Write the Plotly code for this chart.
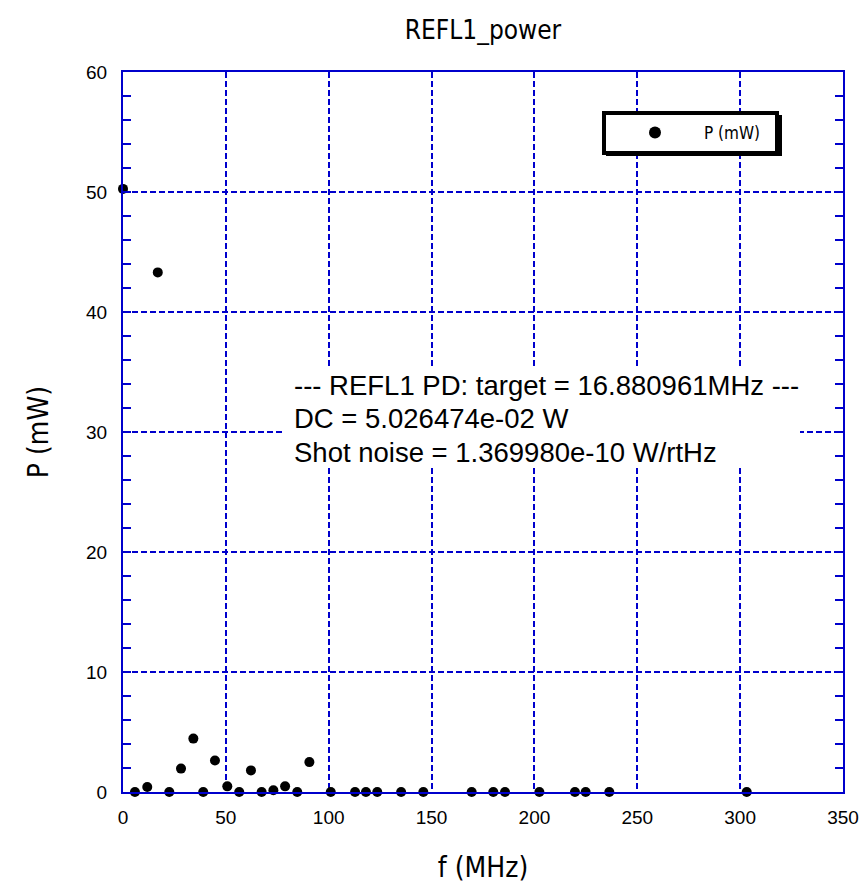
import plotly.graph_objects as go

# ---- data ----
freq_mhz = [0, 5.8, 11.8, 16.9, 22.5, 28.2, 34.2, 39.0, 44.7, 50.7, 56.5, 62.2,
            67.4, 73.1, 78.8, 84.7, 90.6, 101.0, 112.8, 118.1, 123.6, 135.2,
            146.0, 169.5, 180.0, 185.7, 202.4, 219.7, 224.9, 236.4, 303.2]
power_mw = [50.26, 0, 0.42, 43.3, 0, 1.95, 4.45, 0, 2.63, 0.47, 0, 1.8,
            0, 0.14, 0.47, 0, 2.49, 0, 0, 0, 0, 0,
            0, 0, 0, 0, 0, 0, 0, 0, 0]
x_ticks = [0, 50, 100, 150, 200, 250, 300, 350]
y_ticks = [0, 10, 20, 30, 40, 50, 60]
info_lines = ["--- REFL1 PD: target = 16.880961MHz ---",
              "DC = 5.026474e-02 W",
              "Shot noise = 1.369980e-10 W/rtHz"]

BLUE = "#0000CC"
NARROW = "Liberation Sans Narrow, DejaVu Sans Condensed, Roboto, sans-serif"
ARIAL = "Liberation Sans, Arial, sans-serif"

fig = go.Figure()
fig.add_trace(go.Scatter(
    x=freq_mhz, y=power_mw, mode="markers", name="P (mW)&nbsp;&nbsp;",
    marker=dict(color="black", size=10), cliponaxis=False))

# body margin is removed in the page (post_script), so figure fills the window
W, H = 865, 893
L, T = 123, 72
pw, ph = 720, 720
R, B = W - L - pw, H - T - ph

def px_x(p):  # screen pixel -> paper x
    return (p - L) / pw

def px_y(p):  # screen pixel -> paper y
    return (T + ph - p) / ph

# legend drop shadow
fig.add_shape(type="rect", xref="paper", yref="paper",
              x0=px_x(606), x1=px_x(782), y0=px_y(156), y1=px_y(115),
              fillcolor="black", line=dict(width=0), layer="above")

# white box behind the info text
fig.add_shape(type="rect", xref="paper", yref="paper",
              x0=px_x(285), x1=px_x(800), y0=px_y(468), y1=px_y(369),
              fillcolor="white", line=dict(width=0), layer="above")

for txt, yy in zip(info_lines, [385, 419, 452]):
    fig.add_annotation(text=txt, xref="paper", yref="paper",
                       x=px_x(292), y=px_y(yy), xanchor="left", yanchor="middle",
                       showarrow=False, align="left",
                       font=dict(family=ARIAL, size=27.5, color="black"))

fig.update_layout(
    width=W, height=H,
    margin=dict(l=L, r=R, t=T, b=B, autoexpand=False),
    paper_bgcolor="white", plot_bgcolor="white",
    title=dict(text="REFL1_power", x=(L + pw / 2) / W, xanchor="center",
               yref="container", y=1 - 30 / H, yanchor="middle",
               font=dict(family=NARROW, size=26, color="black")),
    showlegend=True,
    legend=dict(x=px_x(602), y=px_y(111), xanchor="left", yanchor="top",
                bgcolor="white", bordercolor="black", borderwidth=4,
                font=dict(family=NARROW, size=17, color="black"),
                itemwidth=88, itemsizing="constant"),
    xaxis=dict(range=[0, 350], tickvals=x_ticks, ticks="", automargin=False,
               showgrid=True, gridcolor=BLUE, gridwidth=1.5, griddash="6px,3px",
               showline=True, linecolor=BLUE, linewidth=2, mirror=True,
               zeroline=False, ticklabelstandoff=7,
               tickfont=dict(family=ARIAL, size=19, color="black"),
               title=dict(text="f (MHz)", standoff=31,
                          font=dict(family=NARROW, size=28, color="black"))),
    yaxis=dict(range=[0, 60], tickvals=y_ticks, ticks="inside", ticklen=8,
               tickcolor=BLUE, tickwidth=2, automargin=False,
               minor=dict(dtick=2, ticks="inside", ticklen=8, tickcolor=BLUE,
                          tickwidth=2, showgrid=False),
               showgrid=True, gridcolor=BLUE, gridwidth=1.5, griddash="6px,3px",
               showline=True, linecolor=BLUE, linewidth=2, mirror="ticks",
               zeroline=False, ticklabelstandoff=10,
               tickfont=dict(family=ARIAL, size=19, color="black"),
               title=dict(text="P (mW)", standoff=29,
                          font=dict(family=NARROW, size=28, color="black"))),
)

fig.write_html("out.html",
               config={"displayModeBar": False},
               post_script="document.body.style.margin='0';"
                           "document.body.style.overflow='hidden';")
